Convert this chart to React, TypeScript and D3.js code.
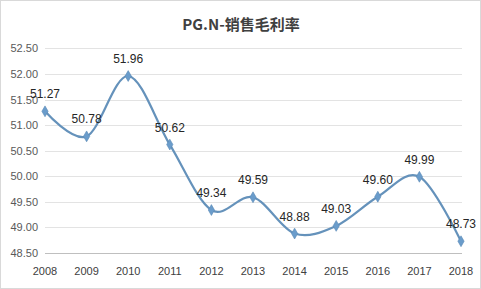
import React, { useEffect, useRef } from 'react';
import * as d3 from 'd3';

const years = ['2008', '2009', '2010', '2011', '2012', '2013', '2014', '2015', '2016', '2017', '2018'];
const margin = [51.27, 50.78, 51.96, 50.62, 49.34, 49.59, 48.88, 49.03, 49.6, 49.99, 48.73];
const yTicks = [48.5, 49, 49.5, 50, 50.5, 51, 51.5, 52, 52.5];

const W = 481;
const H = 289;

function draw(el: SVGSVGElement) {
  const svg = d3.select(el);
  svg.selectAll('*').remove();

  const x = d3.scalePoint().domain(years).range([45, 461]);
  const y = d3.scaleLinear().domain([48.5, 52.5]).range([253, 48.4]);

  svg.append('rect')
    .attr('x', 0.5).attr('y', 0.5)
    .attr('width', W - 1).attr('height', H - 1)
    .attr('fill', '#fff')
    .attr('stroke', '#d9d9d9');

  svg.append('text')
    .attr('x', 241).attr('y', 30)
    .attr('text-anchor', 'middle')
    .attr('font-family', '"Noto Sans CJK SC", sans-serif')
    .attr('font-weight', 700)
    .attr('font-size', 15)
    .attr('fill', '#404040')
    .text('PG.N-销售毛利率');

  // gridlines
  svg.append('g')
    .selectAll('line')
    .data(yTicks)
    .join('line')
      .attr('x1', 45).attr('x2', 462)
      .attr('y1', d => Math.round(y(d)) + 0.5)
      .attr('y2', d => Math.round(y(d)) + 0.5)
      .attr('stroke', d => d === 48.5 ? '#bfbfbf' : '#e3e3e3')
      .attr('stroke-width', 1);

  svg.append('g')
    .attr('font-family', '"Liberation Sans", Arial, sans-serif')
    .attr('font-size', 11)
    .attr('fill', '#595959')
    .attr('text-anchor', 'end')
    .selectAll('text')
    .data(yTicks)
    .join('text')
      .attr('x', 38)
      .attr('y', d => y(d) + 4)
      .text(d => d.toFixed(2));

  svg.append('g')
    .attr('font-family', '"Liberation Sans", Arial, sans-serif')
    .attr('font-size', 11)
    .attr('fill', '#404040')
    .attr('text-anchor', 'middle')
    .selectAll('text')
    .data(years)
    .join('text')
      .attr('x', d => x(d)!)
      .attr('y', 275)
      .text(d => d);

  const pts: [number, number][] = years.map((yr, i) => [x(yr)!, y(margin[i])]);

  const line = d3.line().curve(d3.curveCardinal.tension(0));
  svg.append('path')
    .attr('d', line(pts))
    .attr('fill', 'none')
    .attr('stroke', '#6592bb')
    .attr('stroke-width', 2.2);

  const diamond = d3.symbol().type(d3.symbolDiamond).size(34);
  svg.append('g')
    .selectAll('path')
    .data(pts)
    .join('path')
      .attr('transform', d => `translate(${d[0]},${d[1]})`)
      .attr('d', diamond())
      .attr('fill', '#6a9ccb')
      .attr('stroke', '#5b8ab5')
      .attr('stroke-width', 0.6);

  svg.append('g')
    .attr('font-family', '"Liberation Sans", Arial, sans-serif')
    .attr('font-size', 12)
    .attr('fill', '#262626')
    .attr('text-anchor', 'middle')
    .selectAll('text')
    .data(margin)
    .join('text')
      .attr('x', (d, i) => x(years[i])!)
      .attr('y', d => y(d) - 13)
      .text(d => d.toFixed(2));
}

export default function App() {
  const ref = useRef<SVGSVGElement>(null);
  useEffect(() => {
    if (ref.current) draw(ref.current);
  }, []);
  return <svg ref={ref} width={W} height={H} style={{ position: 'absolute', left: 0, top: 0 }} />;
}
